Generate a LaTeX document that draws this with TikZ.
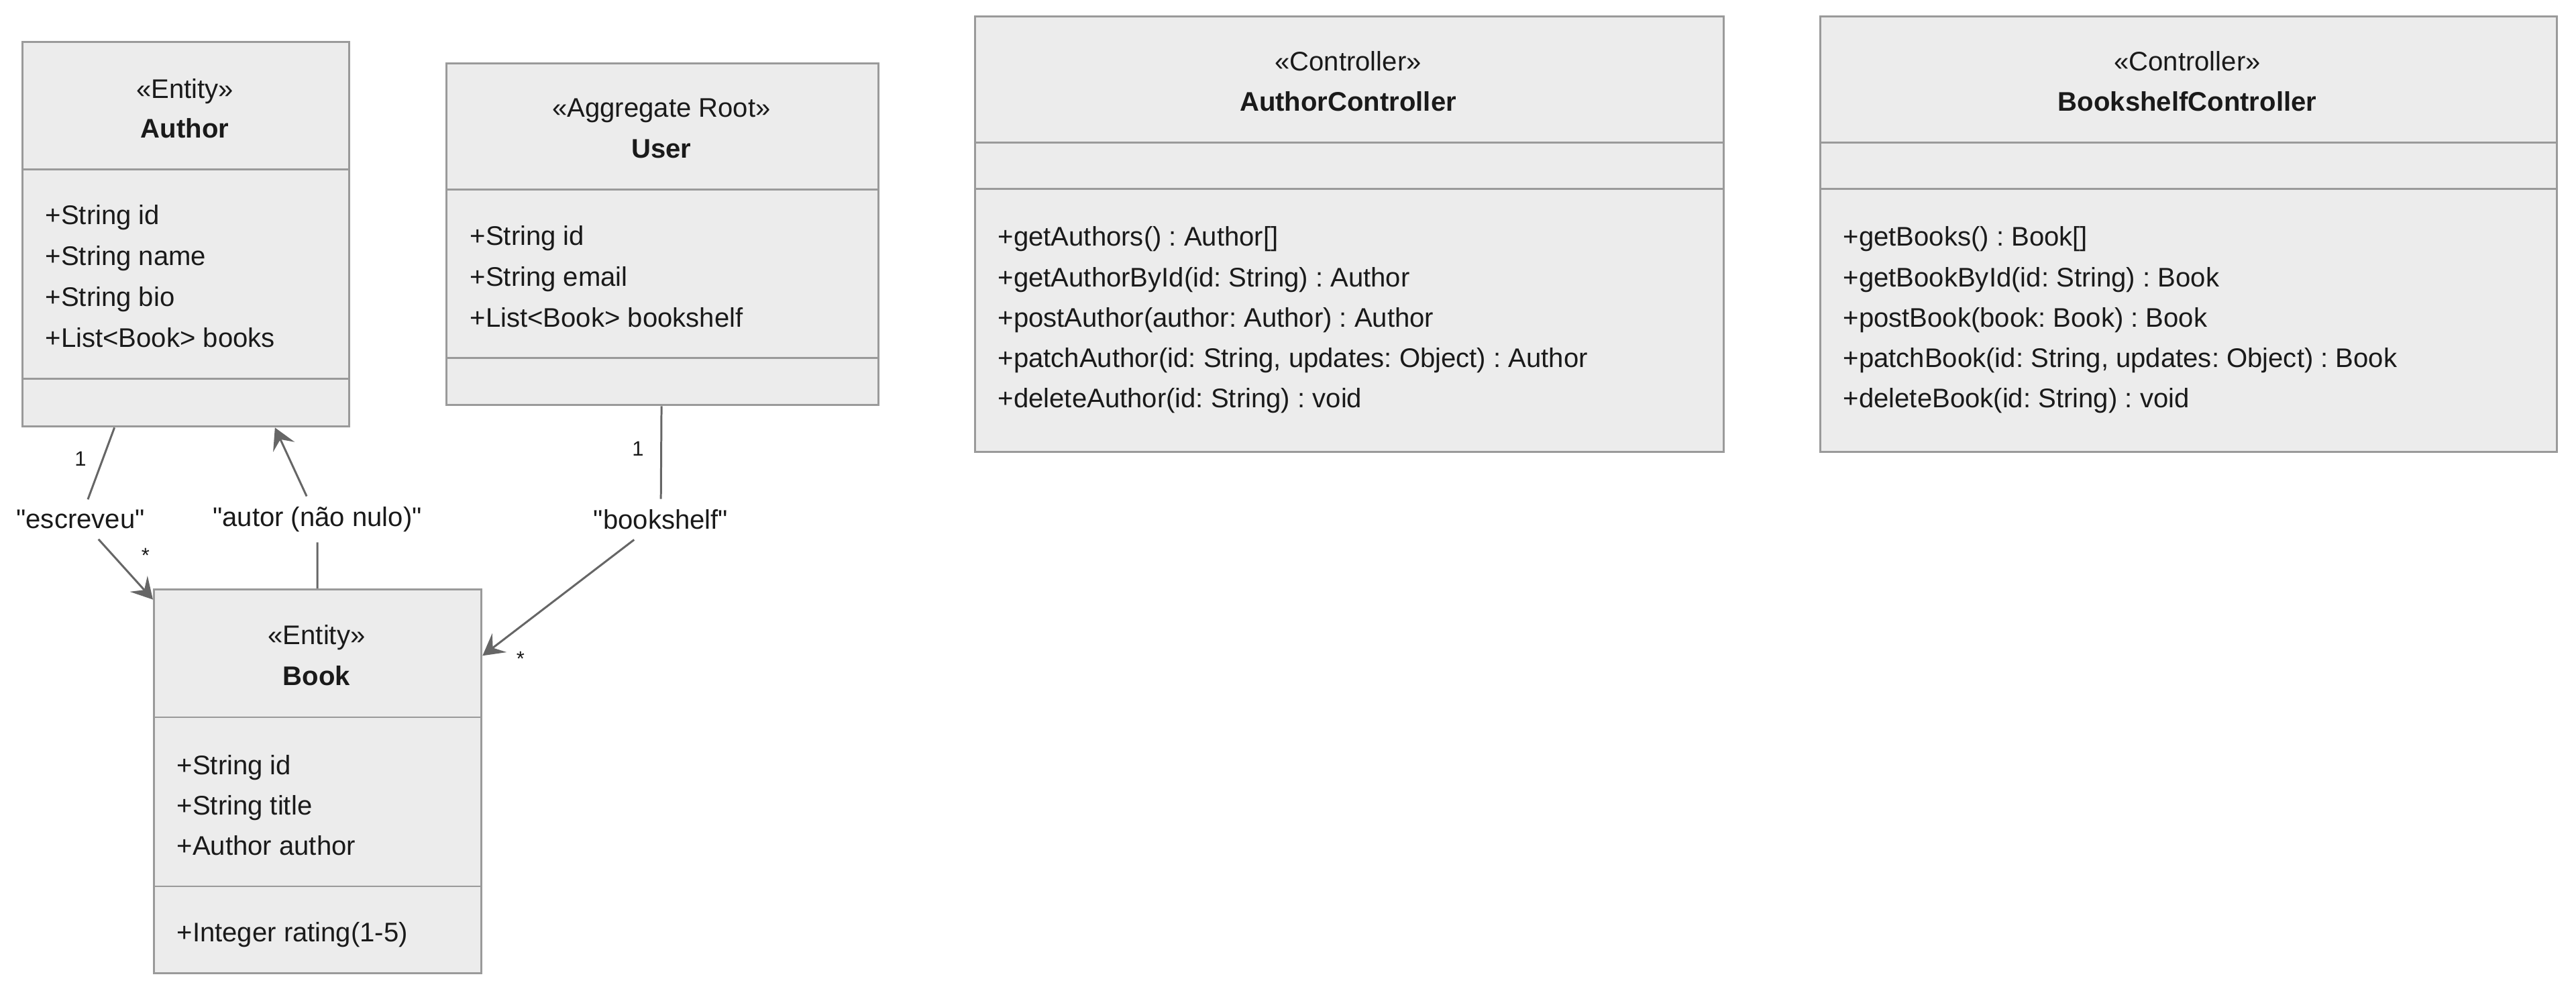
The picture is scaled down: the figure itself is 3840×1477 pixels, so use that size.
\documentclass[tikz,border=0pt]{standalone}
\usepackage{fontspec}
\setmainfont{Liberation Sans}[Ligatures=TeXOff]
\usetikzlibrary{arrows.meta}
\definecolor{boxfill}{HTML}{ECECEC}
\definecolor{boxline}{HTML}{9A9A9A}
\definecolor{edgeline}{HTML}{666666}
\definecolor{textcol}{HTML}{1A1A1A}
\frenchspacing

\begin{document}
\begin{tikzpicture}[x=0.01cm, y=-0.01cm,
	classbox/.style = {draw=boxline, fill=boxfill, line width=0.85pt, rectangle, anchor=north west, inner sep=0pt},
	divider/.style = {draw=boxline, line width=0.85pt},
	stereo/.style = {text=textcol, font=\fontsize{11.4}{14}\selectfont, anchor=base, inner sep=0pt},
	title/.style = {stereo, font=\fontsize{11.4}{14}\selectfont\bfseries},
	member/.style = {text=textcol, font=\fontsize{11.4}{14}\selectfont, anchor=base west, inner sep=0pt},
	rel/.style = {text=textcol, font=\fontsize{11.4}{14}\selectfont, inner sep=0.15cm},
	card/.style = {text=textcol, font=\fontsize{8.8}{10}\selectfont, inner sep=0pt},
	assoc/.style = {draw=edgeline, line width=0.85pt},
	head/.style = {-{Stealth[length=9pt, width=10pt, inset=3.5pt]}}]
	\path[use as bounding box, fill=white] (0,0) rectangle (3840,1477);

	% class boxes
	\node[classbox, minimum width=4.87cm, minimum height=5.73cm] (author) at (32,61) {};
	\node[classbox, minimum width=6.44cm, minimum height=5.09cm] (user) at (664,93) {};
	\node[classbox, minimum width=11.15cm, minimum height=6.49cm] (authorCtrl) at (1452,23) {};
	\node[classbox, minimum width=10.97cm, minimum height=6.49cm] (shelfCtrl) at (2712,23) {};
	\node[classbox, minimum width=4.88cm, minimum height=5.72cm] (book) at (228,877) {};

	\draw[divider] (author.west |- 0,253) -- (author.east |- 0,253);
	\draw[divider] (author.west |- 0,565) -- (author.east |- 0,565);
	\draw[divider] (user.west |- 0,283) -- (user.east |- 0,283);
	\draw[divider] (user.west |- 0,534) -- (user.east |- 0,534);
	\draw[divider] (authorCtrl.west |- 0,213) -- (authorCtrl.east |- 0,213);
	\draw[divider] (authorCtrl.west |- 0,282) -- (authorCtrl.east |- 0,282);
	\draw[divider] (shelfCtrl.west |- 0,213) -- (shelfCtrl.east |- 0,213);
	\draw[divider] (shelfCtrl.west |- 0,282) -- (shelfCtrl.east |- 0,282);
	\draw[divider] (book.west |- 0,1069) -- (book.east |- 0,1069);
	\draw[divider] (book.west |- 0,1321) -- (book.east |- 0,1321);

	% Author
	\node[stereo] (authorStereo) at (275.5,147) {«Entity»};
	\node[title] (authorName) at (275.5,206) {Author};
	\node[member] (authorId) at (67,335) {+String id};
	\node[member] (authorNm) at (67,396) {+String name};
	\node[member] (authorBio) at (67,457) {+String bio};
	\node[member] (authorBooks) at (67,518) {+List<Book> books};

	% User
	\node[stereo] (userStereo) at (986,175) {«Aggregate Root»};
	\node[title] (userName) at (986,236) {User};
	\node[member] (userId) at (700,366) {+String id};
	\node[member] (userMail) at (700,427) {+String email};
	\node[member] (userShelf) at (700,488) {+List<Book> bookshelf};

	% AuthorController
	\node[stereo] (authorCtrlStereo) at (2009.5,106) {«Controller»};
	\node[title] (authorCtrlName) at (2009.5,166) {AuthorController};
	\node[member] (getAuthors) at (1487,367) {+getAuthors() : Author[]};
	\node[member] (getAuthorById) at (1487,428) {+getAuthorById(id: String) : Author};
	\node[member] (postAuthor) at (1487,488) {+postAuthor(author: Author) : Author};
	\node[member] (patchAuthor) at (1487,548) {+patchAuthor(id: String, updates: Object) : Author};
	\node[member] (deleteAuthor) at (1487,608) {+deleteAuthor(id: String) : void};

	% BookshelfController
	\node[stereo] (shelfCtrlStereo) at (3260.5,106) {«Controller»};
	\node[title] (shelfCtrlName) at (3260.5,166) {BookshelfController};
	\node[member] (getBooks) at (2747,367) {+getBooks() : Book[]};
	\node[member] (getBookById) at (2747,428) {+getBookById(id: String) : Book};
	\node[member] (postBook) at (2747,488) {+postBook(book: Book) : Book};
	\node[member] (patchBook) at (2747,548) {+patchBook(id: String, updates: Object) : Book};
	\node[member] (deleteBook) at (2747,608) {+deleteBook(id: String) : void};

	% Book
	\node[stereo] (bookStereo) at (472,961) {«Entity»};
	\node[title] (bookName) at (472,1022) {Book};
	\node[member] (bookId) at (263,1154) {+String id};
	\node[member] (bookTitle) at (263,1214) {+String title};
	\node[member] (bookAuthor) at (263,1274) {+Author author};
	\node[member] (bookRating) at (263,1403) {+Integer rating(1-5)};

	% relations
	\node[rel] (escreveu) at (120,774) {"escreveu"};
	\node[rel] (autor) at (473,774) {"autor (não nulo)"};
	\node[rel] (bookshelf) at (985,774) {"bookshelf"};
	\draw[assoc] (author) -- (escreveu);
	\draw[assoc, head] (escreveu) -- (book);
	\draw[assoc] (book) -- (autor);
	\draw[assoc, head] (autor) -- (author);
	\draw[assoc] (user) -- (bookshelf);
	\draw[assoc, head] (bookshelf) -- (book);

	\node[card] (escOne) at (120,684) {1};
	\node[card] (escMany) at (217,828) {*};
	\node[card] (shelfOne) at (951,669) {1};
	\node[card] (shelfMany) at (776,982) {*};
\end{tikzpicture}
\end{document}
